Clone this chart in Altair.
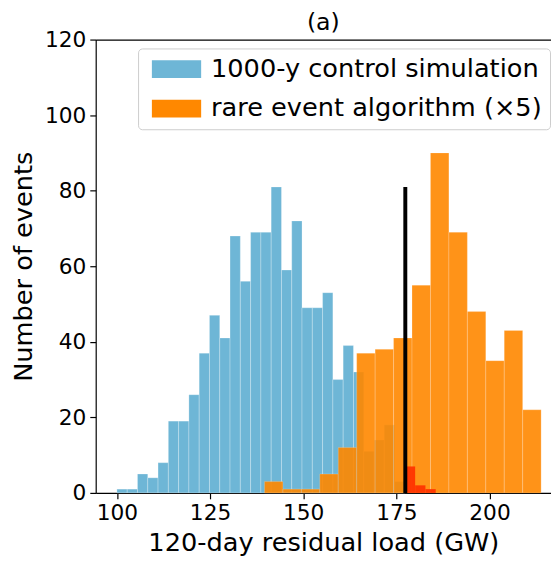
import altair as alt
import pandas as pd

# ---- data ----
blue_start = 100.0
blue_width = 2.76
blue_counts = [1, 1, 5, 4, 8, 19, 19, 26, 37, 47, 41, 68, 56, 69, 69, 81, 59, 72,
               49, 49, 53, 30, 39, 32, 11, 14, 18, 3]
red_counts = [7, 2, 1]  # control-simulation bins above the threshold

orange_start = 139.6
orange_width = 4.95
orange_counts = [3, 1, 1, 5, 12, 37, 38, 41, 55, 90, 69, 48, 35, 43, 22]

threshold = 177.4
threshold_height = 81

labels = ["1000-y control simulation", "rare event algorithm (\u00d75)"]
colors = ["#6eb6d6", "#ff8800"]

# ---- tables ----
blue_df = pd.DataFrame({
    "start": [blue_start + i * blue_width for i in range(len(blue_counts))],
    "end": [blue_start + (i + 1) * blue_width for i in range(len(blue_counts))],
    "count": blue_counts,
    "series": labels[0],
})
n0 = len(blue_counts)
red_df = pd.DataFrame({
    "start": [blue_start + (n0 + i) * blue_width for i in range(len(red_counts))],
    "end": [blue_start + (n0 + i + 1) * blue_width for i in range(len(red_counts))],
    "count": red_counts,
})
orange_df = pd.DataFrame({
    "start": [orange_start + i * orange_width for i in range(len(orange_counts))],
    "end": [orange_start + (i + 1) * orange_width for i in range(len(orange_counts))],
    "count": orange_counts,
    "series": labels[1],
})
line_df = pd.DataFrame({"x": [threshold], "y": [threshold_height]})

xscale = alt.Scale(domain=[94.31, 216.5], nice=False, zero=False)
yscale = alt.Scale(domain=[0, 120], nice=False)
cscale = alt.Scale(domain=labels, range=colors)

legend = alt.Legend(
    title=None, orient="none", legendX=43, legendY=9,
    symbolType="M-2.5,-0.9H2.5V0.9H-2.5Z", symbolSize=400,
    symbolStrokeWidth=0, symbolOpacity=1, symbolOffset=18,
    labelFontSize=26, labelFont="DejaVu Sans", labelColor="black",
    labelOffset=22, rowPadding=14, padding=8,
    fillColor="white", strokeColor="#cccccc", cornerRadius=4,
    labelLimit=600,
)

blue = alt.Chart(blue_df).mark_rect(stroke="white", strokeWidth=0.5, strokeOpacity=0.5).encode(
    x=alt.X("start:Q", scale=xscale,
            axis=alt.Axis(values=[100, 125, 150, 175, 200], title="120-day residual load (GW)",
                          titlePadding=6)),
    x2="end:Q",
    y=alt.Y("count:Q", scale=yscale,
            axis=alt.Axis(values=[0, 20, 40, 60, 80, 100, 120], title="Number of events",
                          titlePadding=8)),
    y2=alt.datum(0),
    fill=alt.Fill("series:N", scale=cscale, legend=legend),
)

orange = alt.Chart(orange_df).mark_rect(opacity=0.9, stroke="white", strokeWidth=0.5,
                                        strokeOpacity=0.4).encode(
    x=alt.X("start:Q", scale=xscale, axis=None),
    x2="end:Q",
    y=alt.Y("count:Q", scale=yscale),
    y2=alt.datum(0),
    fill=alt.Fill("series:N", scale=cscale, legend=legend),
)

red = alt.Chart(red_df).mark_rect(color="#ff3300", opacity=0.95).encode(
    x=alt.X("start:Q", scale=xscale, axis=None),
    x2="end:Q",
    y=alt.Y("count:Q", scale=yscale),
    y2=alt.datum(0),
)

line = alt.Chart(line_df).mark_rule(color="black", strokeWidth=4).encode(
    x=alt.X("x:Q", scale=xscale,
            axis=alt.Axis(orient="top", labels=False, ticks=False, title=None, domain=True)),
    y=alt.Y("y:Q", scale=yscale),
    y2=alt.datum(0),
)

chart = alt.layer(blue, orange, red, line).resolve_axis(x="independent").properties(
    width=462, height=460,
    title=alt.TitleParams("(a)", fontSize=24, font="DejaVu Sans", fontWeight="normal",
                          color="black", offset=-6),
    autosize=alt.AutoSizeParams(type="none"),
    padding={"left": 89, "top": 28, "right": 0, "bottom": 61},
).configure_view(stroke=None).configure_axis(
    labelFont="DejaVu Sans", titleFont="DejaVu Sans",
    labelFontSize=22, titleFontSize=26, titleFontWeight="normal",
    labelColor="black", titleColor="black", domainColor="black", tickColor="black",
    tickSize=6, labelPadding=4, grid=False, domainWidth=1.2, tickWidth=1.2,
)

chart.save("out.html", embed_options={"renderer": "svg", "actions": False})
